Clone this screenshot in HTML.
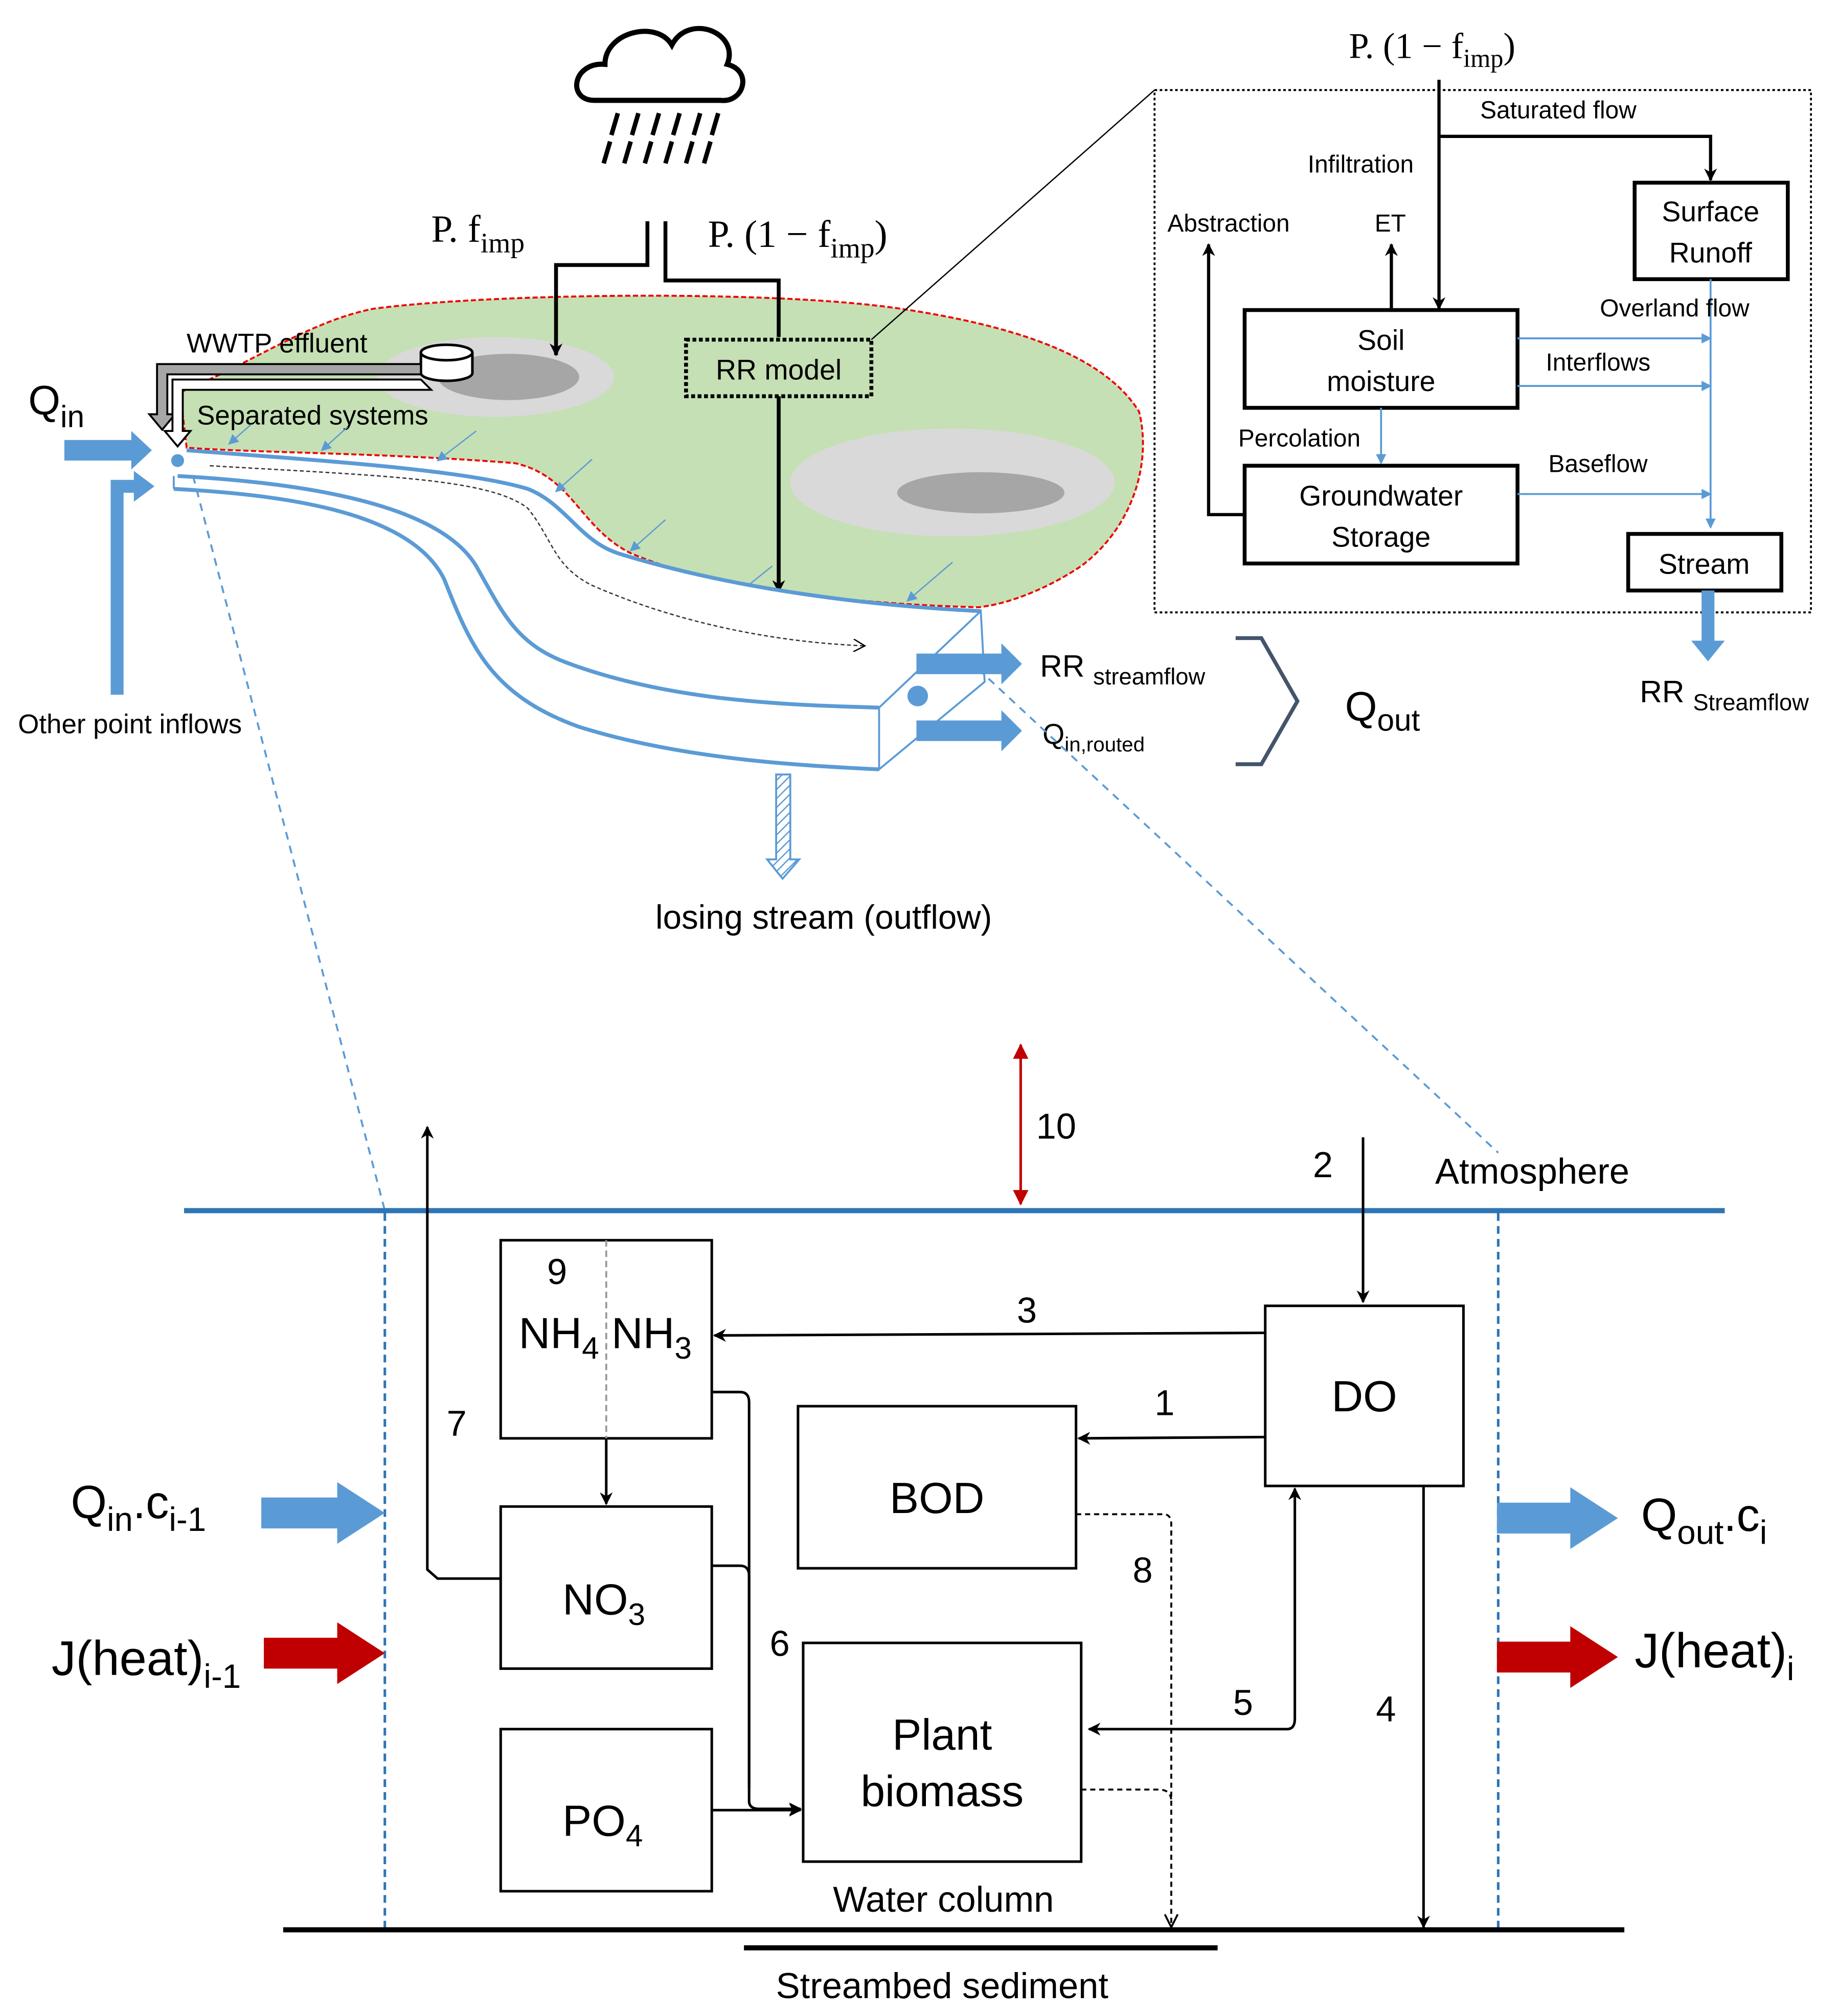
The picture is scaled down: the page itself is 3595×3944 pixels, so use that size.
<!DOCTYPE html>
<html><head><meta charset="utf-8"><style>
html,body{margin:0;padding:0;background:#fff;}
svg{display:block;}
text{font-family:"Liberation Sans",sans-serif;}
.serif{font-family:"Liberation Serif",serif;}
</style></head><body>
<svg width="3595" height="3944" viewBox="0 0 1428 1567" preserveAspectRatio="none" xmlns="http://www.w3.org/2000/svg">
<defs>
<marker id="ab" markerWidth="10" markerHeight="10" refX="9" refY="5" orient="auto" markerUnits="userSpaceOnUse"><path d="M0,0 L10,5 L0,10 L3,5 Z" fill="#000"/></marker>
<marker id="abl" markerWidth="8" markerHeight="8" refX="7" refY="4" orient="auto" markerUnits="userSpaceOnUse"><path d="M0,0 L8,4 L0,8 Z" fill="#5b9bd5"/></marker>
<marker id="abr" markerWidth="12" markerHeight="12" refX="11" refY="6" orient="auto-start-reverse" markerUnits="userSpaceOnUse"><path d="M0,0 L12,6 L0,12 Z" fill="#c00000"/></marker>
<marker id="aot" markerWidth="10" markerHeight="10" refX="9" refY="5" orient="auto" markerUnits="userSpaceOnUse"><path d="M0,0 L9,5 L0,10" fill="none" stroke="#000" stroke-width="1"/></marker>
<pattern id="hatch" width="5" height="5" patternUnits="userSpaceOnUse" patternTransform="rotate(45)"><rect width="5" height="5" fill="#fff"/><line x1="0" y1="0" x2="0" y2="5" stroke="#5b9bd5" stroke-width="2"/></pattern>
</defs>

<!-- Cloud -->
<path d="M462,78 C440,78 445,48 470,50 C470,25 510,15 522,35 C535,10 575,25 565,50 C585,55 578,80 560,78 Z" fill="#fff" stroke="#000" stroke-width="4"/>
<g stroke="#000" stroke-width="3.5">
<line x1="480" y1="88" x2="475" y2="105"/><line x1="496" y1="88" x2="491" y2="105"/><line x1="512" y1="88" x2="507" y2="105"/><line x1="528" y1="88" x2="523" y2="105"/><line x1="544" y1="88" x2="539" y2="105"/><line x1="558" y1="88" x2="553" y2="105"/>
<line x1="474" y1="110" x2="469" y2="127"/><line x1="490" y1="110" x2="485" y2="127"/><line x1="506" y1="110" x2="501" y2="127"/><line x1="522" y1="110" x2="517" y2="127"/><line x1="538" y1="110" x2="533" y2="127"/><line x1="552" y1="110" x2="547" y2="127"/>
</g>
<text x="335" y="188" font-size="30" class="serif">P. f<tspan font-size="22" dy="8">imp</tspan></text>
<text x="550" y="192" font-size="30" class="serif">P. (1 − f<tspan font-size="22" dy="8">imp</tspan><tspan dy="-8">)</tspan></text>

<!-- green catchment -->
<path d="M140,305 C200,280 240,250 290,240 C380,228 600,225 700,240 C800,255 860,280 885,320 C895,360 880,410 840,440 C810,460 780,470 760,472 C680,470 560,460 490,430 C450,410 445,370 400,360 C300,352 200,352 145,348 Z" fill="#c5e0b4" stroke="#e00" stroke-width="1.5" stroke-dasharray="4,2"/>
<ellipse cx="385" cy="293" rx="92" ry="31" fill="#d9d9d9"/>
<ellipse cx="395" cy="293" rx="55" ry="18" fill="#a6a6a6"/>
<ellipse cx="740" cy="375" rx="126" ry="42" fill="#d9d9d9"/>
<ellipse cx="762" cy="383" rx="65" ry="16" fill="#a6a6a6"/>

<!-- cylinder -->
<path d="M327,274 L327,290 A20,6 0 0 0 367,290 L367,274" fill="#fff" stroke="#000" stroke-width="2"/>
<ellipse cx="347" cy="274" rx="20" ry="6" fill="#fff" stroke="#000" stroke-width="2"/>
<text x="145" y="274" font-size="21">WWTP effluent</text>
<path d="M327,283 L122,283 L122,322 L116,322 L126,334 L136,322 L130,322 L130,291 L327,291 Z" fill="#a6a6a6" stroke="#000" stroke-width="1.5"/>
<path d="M327,295 L134,295 L134,335 L128,335 L138,347 L148,335 L142,335 L142,303 L335,303 Z" fill="#fff" stroke="#000" stroke-width="1.5"/>
<text x="153" y="330" font-size="21">Separated systems</text>

<polyline points="503,172 503,206 432,206 432,276" fill="none" stroke="#000" stroke-width="3" marker-end="url(#ab)"/>
<polyline points="517,172 517,218 605,218 605,262" fill="none" stroke="#000" stroke-width="3"/>
<rect x="533" y="264" width="144" height="44" fill="none" stroke="#000" stroke-width="3" stroke-dasharray="3,2"/>
<text x="605" y="295" font-size="22" text-anchor="middle">RR model</text>
<line x1="605" y1="308" x2="605" y2="460" stroke="#000" stroke-width="3" marker-end="url(#ab)"/>
<line x1="677" y1="264" x2="897" y2="70" stroke="#000" stroke-width="1"/>

<g stroke="#5b9bd5" stroke-width="1" marker-end="url(#abl)">
<line x1="195" y1="330" x2="178" y2="345"/><line x1="270" y1="332" x2="250" y2="350"/><line x1="370" y1="335" x2="340" y2="358"/><line x1="460" y1="357" x2="432" y2="382"/><line x1="517" y1="404" x2="490" y2="428"/><line x1="600" y1="440" x2="575" y2="460"/><line x1="740" y1="437" x2="705" y2="467"/>
</g>

<!-- stream channel -->
<path d="M145,350 C250,358 360,365 410,380 C440,392 450,420 480,430 C560,455 660,470 762,475 L765,530 L683,598 C620,595 530,590 450,565 C380,540 365,500 345,450 C320,400 230,385 135,380 Z" fill="#fff"/>
<g fill="none" stroke="#5b9bd5" stroke-width="3">
<path d="M145,350 C250,358 360,365 410,380 C440,392 450,420 480,430 C560,455 660,470 762,475"/>
<path d="M138,370 C230,375 340,390 370,440 C390,475 400,500 440,515 C520,545 610,548 683,550"/>
<path d="M135,380 C230,385 320,400 345,450 C365,500 380,540 450,565 C530,590 620,595 683,598"/>
</g>
<g fill="none" stroke="#5b9bd5" stroke-width="1.5">
<path d="M683,550 L762,475 L765,530 L683,598 Z"/>
<line x1="135" y1="370" x2="135" y2="380"/>
</g>
<circle cx="138" cy="358" r="5" fill="#5b9bd5"/>
<circle cx="713" cy="541" r="8" fill="#5b9bd5"/>
<path d="M163,362 C300,370 380,372 410,395 C430,420 430,440 460,455 C540,490 620,500 672,502" fill="none" stroke="#333" stroke-width="1" stroke-dasharray="3,2" marker-end="url(#aot)"/>

<text x="22" y="322" font-size="32">Q<tspan font-size="24" dy="10">in</tspan></text>
<path d="M50,342 L102,342 L102,335 L118,350 L102,365 L102,358 L50,358 Z" fill="#5b9bd5"/>
<path d="M86,540 L86,373 L104,373 L104,366 L120,378 L104,390 L104,383 L96,383 L96,540 Z" fill="#5b9bd5"/>
<text x="14" y="570" font-size="21">Other point inflows</text>

<path d="M712,508 L778,508 L778,500 L794,516 L778,532 L778,524 L712,524 Z" fill="#5b9bd5"/>
<path d="M712,560 L778,560 L778,552 L794,568 L778,584 L778,576 L712,576 Z" fill="#5b9bd5"/>
<text x="808" y="526" font-size="24">RR <tspan font-size="18" dy="6">streamflow</tspan></text>
<text x="810" y="578" font-size="22">Q<tspan font-size="16" dy="6">in,routed</tspan></text>
<path d="M960,496 L980,496 L1008,545 L980,594 L960,594" fill="none" stroke="#44546a" stroke-width="3"/>
<text x="1045" y="560" font-size="32">Q<tspan font-size="24" dy="8">out</tspan></text>

<path d="M603,602 L614,602 L614,668 L621,668 L608,683 L596,668 L603,668 Z" fill="url(#hatch)" stroke="#5b9bd5" stroke-width="1.5"/>
<text x="640" y="722" font-size="26" text-anchor="middle">losing stream (outflow)</text>

<!-- RR model detail -->
<rect x="897" y="70" width="510" height="406" fill="none" stroke="#000" stroke-width="1.5" stroke-dasharray="2,2"/>
<text x="1048" y="45" font-size="28" class="serif">P. (1 − f<tspan font-size="20" dy="7">imp</tspan><tspan dy="-7">)</tspan></text>
<line x1="1118" y1="62" x2="1118" y2="240" stroke="#000" stroke-width="2.5" marker-end="url(#ab)"/>
<polyline points="1118,106 1329,106 1329,140" fill="none" stroke="#000" stroke-width="2.5" marker-end="url(#ab)"/>
<text x="1150" y="92" font-size="19">Saturated flow</text>
<text x="1016" y="134" font-size="19">Infiltration</text>
<text x="907" y="180" font-size="19">Abstraction</text>
<text x="1068" y="180" font-size="19">ET</text>
<rect x="1270" y="142" width="119" height="75" fill="#fff" stroke="#000" stroke-width="3"/>
<text x="1329" y="172" font-size="22" text-anchor="middle">Surface</text>
<text x="1329" y="204" font-size="22" text-anchor="middle">Runoff</text>
<rect x="967" y="241" width="212" height="76" fill="#fff" stroke="#000" stroke-width="3"/>
<text x="1073" y="272" font-size="22" text-anchor="middle">Soil</text>
<text x="1073" y="304" font-size="22" text-anchor="middle">moisture</text>
<rect x="967" y="362" width="212" height="76" fill="#fff" stroke="#000" stroke-width="3"/>
<text x="1073" y="393" font-size="22" text-anchor="middle">Groundwater</text>
<text x="1073" y="425" font-size="22" text-anchor="middle">Storage</text>
<rect x="1265" y="415" width="119" height="44" fill="#fff" stroke="#000" stroke-width="3"/>
<text x="1324" y="446" font-size="22" text-anchor="middle">Stream</text>
<line x1="1081" y1="241" x2="1081" y2="190" stroke="#000" stroke-width="2.5" marker-end="url(#ab)"/>
<polyline points="967,400 939,400 939,190" fill="none" stroke="#000" stroke-width="2.5" marker-end="url(#ab)"/>
<g stroke="#5b9bd5" stroke-width="1.5" fill="none">
<line x1="1329" y1="217" x2="1329" y2="410" marker-end="url(#abl)"/>
<line x1="1179" y1="263" x2="1329" y2="263" marker-end="url(#abl)"/>
<line x1="1179" y1="300" x2="1329" y2="300" marker-end="url(#abl)"/>
<line x1="1179" y1="384" x2="1329" y2="384" marker-end="url(#abl)"/>
<line x1="1073" y1="317" x2="1073" y2="360" marker-end="url(#abl)"/>
</g>
<text x="1243" y="246" font-size="19">Overland flow</text>
<text x="1201" y="288" font-size="19">Interflows</text>
<text x="962" y="347" font-size="19">Percolation</text>
<text x="1203" y="367" font-size="19">Baseflow</text>
<path d="M1322,459 L1332,459 L1332,498 L1340,498 L1327,514 L1314,498 L1322,498 Z" fill="#5b9bd5"/>
<text x="1274" y="546" font-size="24">RR <tspan font-size="18" dy="6">Streamflow</tspan></text>

<line x1="150" y1="370" x2="299" y2="941" stroke="#5b9bd5" stroke-width="1.5" stroke-dasharray="6,5"/>
<line x1="760" y1="520" x2="1164" y2="896" stroke="#5b9bd5" stroke-width="1.5" stroke-dasharray="6,5"/>

<!-- LOWER -->
<line x1="143" y1="941" x2="1340" y2="941" stroke="#2e75b6" stroke-width="4"/>
<line x1="299" y1="943" x2="299" y2="1500" stroke="#2e75b6" stroke-width="2" stroke-dasharray="6,4"/>
<line x1="1164" y1="943" x2="1164" y2="1500" stroke="#2e75b6" stroke-width="2" stroke-dasharray="6,4"/>
<line x1="220" y1="1500" x2="1262" y2="1500" stroke="#000" stroke-width="4"/>
<line x1="578" y1="1514" x2="946" y2="1514" stroke="#000" stroke-width="4"/>
<text x="732" y="1553" font-size="28" text-anchor="middle">Streambed sediment</text>
<text x="733" y="1486" font-size="28" text-anchor="middle">Water column</text>
<text x="1115" y="920" font-size="28">Atmosphere</text>

<line x1="793" y1="812" x2="793" y2="936" stroke="#c00000" stroke-width="2" marker-start="url(#abr)" marker-end="url(#abr)"/>
<text x="805" y="885" font-size="28">10</text>
<line x1="1059" y1="884" x2="1059" y2="1012" stroke="#000" stroke-width="2" marker-end="url(#ab)"/>
<text x="1020" y="915" font-size="28">2</text>

<g fill="#fff" stroke="#000" stroke-width="2">
<rect x="389" y="964" width="164" height="154"/>
<rect x="389" y="1171" width="164" height="126"/>
<rect x="389" y="1344" width="164" height="126"/>
<rect x="620" y="1093" width="216" height="126"/>
<rect x="624" y="1277" width="216" height="170"/>
<rect x="983" y="1015" width="154" height="140"/>
</g>
<line x1="471" y1="964" x2="471" y2="1118" stroke="#999" stroke-width="1.5" stroke-dasharray="5,3"/>
<text x="425" y="998" font-size="28">9</text>
<text x="403" y="1048" font-size="34">NH<tspan font-size="24" dy="8">4</tspan></text>
<text x="475" y="1048" font-size="34">NH<tspan font-size="24" dy="8">3</tspan></text>
<text x="437" y="1255" font-size="34">NO<tspan font-size="24" dy="8">3</tspan></text>
<text x="437" y="1427" font-size="34">PO<tspan font-size="24" dy="8">4</tspan></text>
<text x="728" y="1176" font-size="34" text-anchor="middle">BOD</text>
<text x="732" y="1360" font-size="34" text-anchor="middle">Plant</text>
<text x="732" y="1404" font-size="34" text-anchor="middle">biomass</text>
<text x="1060" y="1097" font-size="34" text-anchor="middle">DO</text>

<g fill="none" stroke="#000" stroke-width="2">
<line x1="983" y1="1036" x2="555" y2="1038" marker-end="url(#ab)"/>
<line x1="983" y1="1117" x2="838" y2="1118" marker-end="url(#ab)"/>
<line x1="471" y1="1118" x2="471" y2="1169" marker-end="url(#ab)"/>
<polyline points="389,1227 340,1227 332,1220 332,876" marker-end="url(#ab)"/>
<path d="M553,1082 L575,1082 Q582,1082 582,1090 L582,1400 Q582,1406 590,1406 L622,1406" marker-end="url(#ab)"/>
<path d="M553,1217 L575,1217 Q582,1217 582,1225 L582,1390"/>
<line x1="553" y1="1407" x2="622" y2="1407" marker-end="url(#ab)"/>
<path d="M1000,1344 Q1006,1344 1006,1336 L1006,1157" marker-end="url(#ab)"/>
<line x1="1106" y1="1155" x2="1106" y2="1498" marker-end="url(#ab)"/>
</g>
<line x1="1000" y1="1344" x2="846" y2="1344" stroke="#000" stroke-width="2" marker-end="url(#ab)"/>
<g fill="none" stroke="#000" stroke-width="1.5" stroke-dasharray="4,3">
<path d="M836,1177 L904,1177 Q910,1177 910,1185 L910,1496"/>
<path d="M840,1391 L900,1391 Q910,1391 910,1400"/>
</g>
<path d="M905,1488 L910,1498 L915,1488" fill="none" stroke="#000" stroke-width="1.5"/>
<text x="790" y="1028" font-size="28">3</text>
<text x="897" y="1100" font-size="28">1</text>
<text x="347" y="1116" font-size="28">7</text>
<text x="880" y="1230" font-size="28">8</text>
<text x="598" y="1287" font-size="28">6</text>
<text x="958" y="1333" font-size="28">5</text>
<text x="1069" y="1338" font-size="28">4</text>

<text x="55" y="1180" font-size="36">Q<tspan font-size="26" dy="10">in</tspan><tspan dy="-10">.c</tspan><tspan font-size="26" dy="10">i-1</tspan></text>
<path d="M203,1164 L262,1164 L262,1152 L299,1176 L262,1200 L262,1188 L203,1188 Z" fill="#5b9bd5"/>
<text x="40" y="1302" font-size="38">J(heat)<tspan font-size="26" dy="10">i-1</tspan></text>
<path d="M205,1273 L262,1273 L262,1261 L299,1285 L262,1309 L262,1297 L205,1297 Z" fill="#c00000"/>
<path d="M1163,1168 L1220,1168 L1220,1156 L1257,1180 L1220,1204 L1220,1192 L1163,1192 Z" fill="#5b9bd5"/>
<text x="1275" y="1190" font-size="36">Q<tspan font-size="26" dy="10">out</tspan><tspan dy="-10">.c</tspan><tspan font-size="26" dy="10">i</tspan></text>
<path d="M1163,1276 L1220,1276 L1220,1264 L1257,1288 L1220,1312 L1220,1300 L1163,1300 Z" fill="#c00000"/>
<text x="1270" y="1296" font-size="38">J(heat)<tspan font-size="26" dy="10">i</tspan></text>
</svg>
</body></html>
